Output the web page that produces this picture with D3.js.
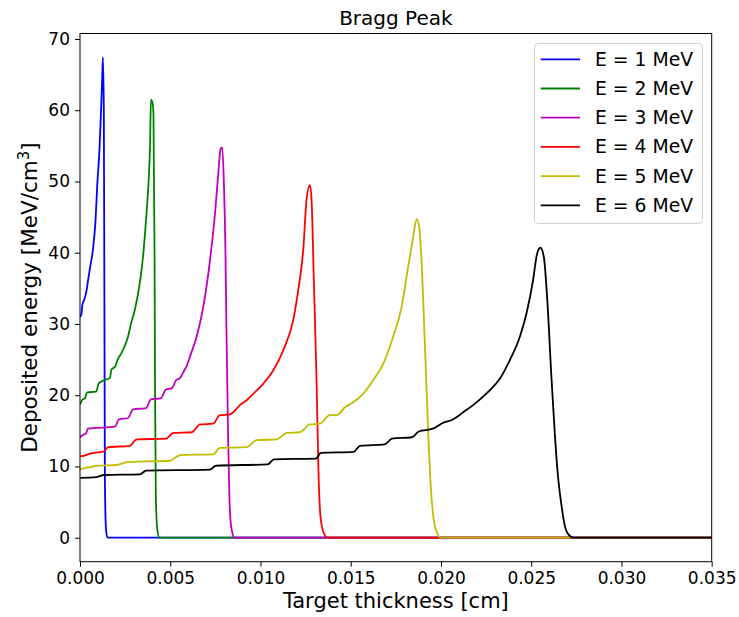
<!DOCTYPE html>
<html>
<head>
<meta charset="utf-8">
<script src="https://cdn.jsdelivr.net/npm/d3@7"></script>
<style>
  body { margin: 0; background: #fff; }
  svg text { font-family: "DejaVu Sans", sans-serif; fill: #000; }
</style>
</head>
<body>
<svg id="chart" width="739" height="617"></svg>
<script>
// energies and colours of the six curves
const labels = ["E = 1 MeV", "E = 2 MeV", "E = 3 MeV", "E = 4 MeV", "E = 5 MeV", "E = 6 MeV"];
const colors = ["#0000ff", "#008000", "#bf00bf", "#ff0000", "#bfbf00", "#000000"];

// [thickness (cm), deposited energy (MeV/cm^3)]
const e1 = [[0,31.0],[0.00008,31.4],[0.00014,32.8],[0.00022,33.3],[0.00035,34.5],[0.00044,36.0],[0.00055,37.8],
  [0.00072,40.5],[0.00086,44.5],[0.00096,49.7],[0.00108,54.5],[0.00116,59.5],[0.00123,64.5],[0.00127,67.4],
  [0.00132,60],[0.00135,35],[0.00138,8],[0.00144,1.2],[0.00152,0],[0.035,0]];
const e2 = [[0,18.7],[0.00014,19.4],[0.00028,19.6],[0.00039,20.4],[0.00089,20.5],[0.00105,21.7],[0.00133,22.1],
  [0.00166,22.4],[0.00174,23.6],[0.00194,24.0],[0.00210,25.1],[0.00227,25.8],[0.00246,26.8],[0.00266,28.2],
  [0.00282,30.0],[0.00303,31.9],[0.00331,35.7],[0.00349,39.4],[0.00367,45.0],[0.00380,50.0],[0.00388,55.0],
  [0.00393,61.5],[0.00402,61.0],[0.00407,59.5],[0.00413,40],[0.00416,20],[0.00420,6],[0.00428,1.2],[0.00440,0],[0.035,0]];
const e3 = [[0,14.1],[0.00022,14.5],[0.00033,14.6],[0.00044,15.3],[0.00089,15.4],[0.00194,15.6],[0.00216,16.6],
  [0.00266,16.8],[0.00294,18.0],[0.00366,18.2],[0.00393,19.4],[0.00449,19.6],[0.00476,20.8],[0.00510,21.0],
  [0.00532,22.1],[0.00554,22.4],[0.00576,23.4],[0.00593,24.2],[0.00609,25.4],[0.00646,28.2],[0.00683,32.4],
  [0.00720,38.9],[0.00748,45.5],[0.00766,51.1],[0.00779,54.6],[0.00788,54.8],[0.00797,50],[0.00806,40],
  [0.00811,30],[0.00820,15],[0.00828,5.5],[0.00838,1.5],[0.00856,0],[0.035,0]];
const e4 = [[0,11.4],[0.00033,11.6],[0.00055,11.8],[0.00111,12.0],[0.00133,12.1],[0.00155,12.7],[0.00277,12.9],
  [0.00314,13.8],[0.00476,13.9],[0.00517,14.7],[0.00620,14.8],[0.00665,15.9],[0.00738,16.0],[0.00775,17.2],
  [0.00831,17.3],[0.00886,18.6],[0.00923,19.3],[0.00960,20.2],[0.01015,21.6],[0.01071,23.5],[0.01126,26.3],
  [0.01181,30.5],[0.01209,34.7],[0.01237,40.4],[0.01255,47.4],[0.01274,49.5],[0.01283,47.4],[0.01296,35.7],
  [0.01311,21.7],[0.01322,8.5],[0.01333,2.8],[0.01350,0.7],[0.01372,0],[0.035,0]];
const e5 = [[0,9.6],[0.00033,9.8],[0.00055,9.9],[0.00092,10.1],[0.00203,10.2],[0.00259,10.6],[0.00369,10.7],
  [0.00498,10.8],[0.00554,11.6],[0.00738,11.7],[0.00775,12.6],[0.00923,12.7],[0.00979,13.7],[0.01089,13.8],
  [0.01145,14.7],[0.01218,14.8],[0.01274,15.9],[0.01329,16.0],[0.01384,17.2],[0.01422,17.2],[0.01468,18.3],
  [0.01514,19.0],[0.01569,20.2],[0.01624,22.1],[0.01680,24.4],[0.01735,28.2],[0.01782,32.4],[0.01818,38.0],
  [0.01846,42.2],[0.01865,44.7],[0.01879,43.6],[0.01893,38.5],[0.01911,27],[0.01929,15],[0.01944,7],
  [0.01960,2.5],[0.01980,0.6],[0.02000,0],[0.035,0]];
const e6 = [[0,8.4],[0.00089,8.5],[0.00133,8.8],[0.00332,8.9],[0.00366,9.4],[0.00720,9.55],[0.00753,10.1],
  [0.01041,10.3],[0.01074,11.0],[0.01307,11.1],[0.01335,11.9],[0.01517,12.05],[0.01551,12.9],[0.01689,13.1],
  [0.01728,13.9],[0.01839,14.1],[0.01877,14.9],[0.01955,15.3],[0.02010,16.1],[0.02066,16.6],[0.02123,17.6],
  [0.02197,19.0],[0.02271,20.7],[0.02326,22.3],[0.02381,24.9],[0.02437,28.2],[0.02474,31.5],[0.02510,36.1],
  [0.02533,39.9],[0.02551,40.7],[0.02570,39.4],[0.02588,33.8],[0.02612,22.5],[0.02631,14.5],[0.02647,9],
  [0.02668,4.5],[0.02685,1.8],[0.02705,0.5],[0.02735,0],[0.035,0]];
const series = [e1, e2, e3, e4, e5, e6];

const xTicks = [0, 0.005, 0.010, 0.015, 0.020, 0.025, 0.030, 0.035];
const yTicks = [0, 10, 20, 30, 40, 50, 60, 70];

const svg = d3.select("#chart");
const plotL = 80, plotR = 711.7, plotT = 33.5, plotB = 561.7;

const x = d3.scaleLinear().domain([0, 0.035]).range([plotL, plotR]);
const y = d3.scaleLinear().domain([-3.37, 70.77]).range([plotB, plotT]);

// title
svg.append("text")
  .attr("x", (plotL + plotR) / 2).attr("y", 25)
  .attr("text-anchor", "middle")
  .style("font-size", "20px")
  .text("Bragg Peak");

// curves
svg.append("clipPath").attr("id", "clip")
  .append("rect").attr("x", plotL).attr("y", plotT).attr("width", plotR - plotL).attr("height", plotB - plotT);

const line = d3.line()
  .x(d => x(d[0]))
  .y(d => y(d[1]))
  .curve(d3.curveMonotoneX);

svg.append("g").attr("clip-path", "url(#clip)")
  .selectAll("path")
  .data(series)
  .join("path")
  .attr("d", line)
  .attr("fill", "none")
  .attr("stroke", (d, i) => colors[i])
  .attr("stroke-width", 1.8)
  .attr("stroke-linejoin", "round");

// axes
const xAxis = svg.append("g")
  .attr("transform", `translate(0,${plotB})`)
  .call(d3.axisBottom(x).tickValues(xTicks).tickFormat(d3.format(".3f")).tickSize(5).tickPadding(5));
const yAxis = svg.append("g")
  .attr("transform", `translate(${plotL},0)`)
  .call(d3.axisLeft(y).tickValues(yTicks).tickSize(5).tickPadding(5));

[xAxis, yAxis].forEach(g => {
  g.select(".domain").remove();
  g.selectAll("line").attr("stroke", "#000").attr("stroke-width", 1);
  g.selectAll("text").style("font-size", "17px").attr("fill", "#000");
});

// frame
svg.append("rect")
  .attr("x", plotL).attr("y", plotT)
  .attr("width", plotR - plotL).attr("height", plotB - plotT)
  .attr("fill", "none").attr("stroke", "#000").attr("stroke-width", 1);

// axis labels
svg.append("text")
  .attr("x", (plotL + plotR) / 2).attr("y", 608)
  .attr("text-anchor", "middle")
  .style("font-size", "21px")
  .text("Target thickness [cm]");

const yl = svg.append("text")
  .attr("transform", `translate(37,${(plotT + plotB) / 2}) rotate(-90)`)
  .attr("text-anchor", "middle")
  .style("font-size", "21.5px");
yl.append("tspan").text("Deposited energy [MeV/cm");
yl.append("tspan").attr("dy", -8).style("font-size", "15px").text("3");
yl.append("tspan").attr("dy", 8).text("]");

// legend
const lg = svg.append("g");
lg.append("rect")
  .attr("x", 534.5).attr("y", 43.5).attr("width", 168).attr("height", 180)
  .attr("rx", 4)
  .attr("fill", "#fff").attr("fill-opacity", 0.8)
  .attr("stroke", "#d0d0d0").attr("stroke-width", 1);
const rows = lg.selectAll("g.row")
  .data(labels)
  .join("g")
  .attr("class", "row")
  .attr("transform", (d, i) => `translate(0,${59.3 + i * 29.2})`);
rows.append("line")
  .attr("x1", 540.7).attr("x2", 580)
  .attr("stroke", (d, i) => colors[i])
  .attr("stroke-width", 1.8);
rows.append("text")
  .attr("x", 595).attr("y", 6.5)
  .style("font-size", "18.8px")
  .text(d => d);
</script>
</body>
</html>
